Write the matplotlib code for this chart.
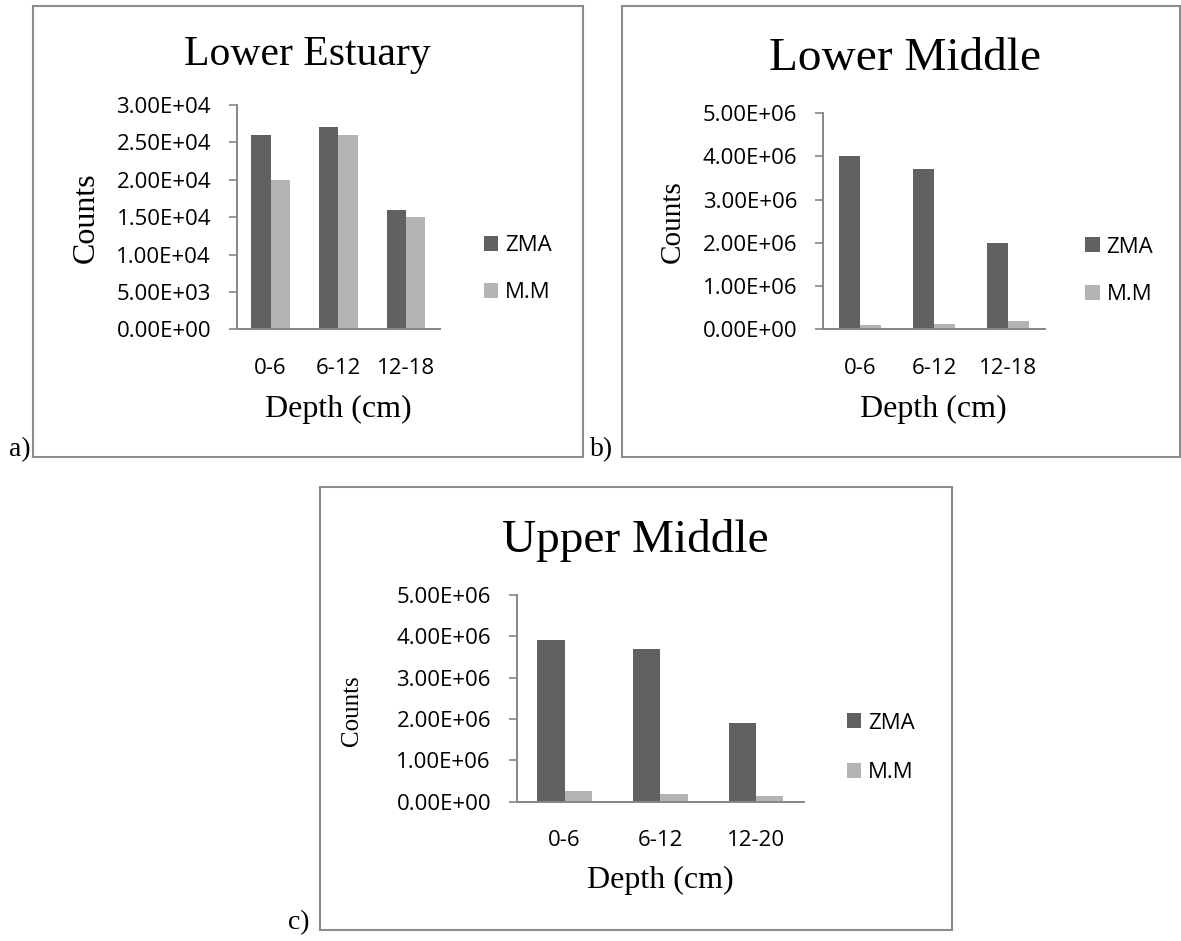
import matplotlib
matplotlib.use("Agg")
import matplotlib.pyplot as plt
from matplotlib.patches import Rectangle
from matplotlib.ticker import MultipleLocator, FuncFormatter
import numpy as np

# ---- data -------------------------------------------------------------
series_names = ["ZMA", "M.M"]

depth_a = ["0-6", "6-12", "12-18"]
zma_a = [2.6e4, 2.7e4, 1.6e4]
mm_a = [2.0e4, 2.6e4, 1.5e4]

depth_b = ["0-6", "6-12", "12-18"]
zma_b = [4.0e6, 3.7e6, 2.0e6]
mm_b = [1.0e5, 1.2e5, 2.0e5]

depth_c = ["0-6", "6-12", "12-20"]
zma_c = [3.9e6, 3.7e6, 1.9e6]
mm_c = [2.7e5, 1.8e5, 1.4e5]

titles = ["Lower Estuary", "Lower Middle", "Upper Middle"]
tags = ["a)", "b)", "c)"]
y_max = [3.0e4, 5.0e6, 5.0e6]
y_step = [5.0e3, 1.0e6, 1.0e6]

# ---- style ------------------------------------------------------------
plt.rcParams["font.family"] = ["Open Sans", "DejaVu Sans"]
SERIF = ["Liberation Serif", "DejaVu Serif"]
ZMA_COLOR = "#616161"
MM_COLOR = "#b3b3b3"
AXIS_COLOR = "#868686"
FRAME_COLOR = "#8c8c8c"
TICK_FS = 16

W, H = 1181, 941
fig = plt.figure(figsize=(W / 100, H / 100), dpi=100)


def fx(x):
    return x / W


def fy(y):
    return 1 - y / H


# layout of each panel, in pixels from the top-left corner
layout = [
    dict(axes=(236.7, 105, 440, 329.3), title=(307, 65, 30), ylab=(86, 218, 23),
         xlab=(338.7, 409, 23), xpad=20.5, leg=(484, 269), leg_sp=1.18,
         frame=(32.5, 6, 583, 457), tag=(19.5, 450)),
    dict(axes=(823.3, 113.3, 1045, 329.3), title=(905, 70, 34), ylab=(673, 221.7, 21),
         xlab=(933.5, 409, 23), xpad=20.5, leg=(1085.4, 271), leg_sp=1.2,
         frame=(622, 6, 1180, 457), tag=(601.5, 450)),
    dict(axes=(516.7, 595, 804, 801.7), title=(635.5, 551.7, 34), ylab=(351.7, 711, 18),
         xlab=(660.5, 880, 23), xpad=20.5, leg=(847, 748), leg_sp=1.3,
         frame=(320, 487, 952, 930), tag=(299, 923)),
]

panels = [
    (depth_a, zma_a, mm_a),
    (depth_b, zma_b, mm_b),
    (depth_c, zma_c, mm_c),
]

sci = FuncFormatter(lambda v, _: "{:.2E}".format(v))
bar_w = 0.285

for i, (cats, zma, mm) in enumerate(panels):
    L = layout[i]
    l, t, r, b = L["axes"]
    ax = fig.add_axes([fx(l), fy(b), fx(r - l), (b - t) / H])

    x = np.arange(len(cats))
    h1 = ax.bar(x - bar_w / 2, zma, width=bar_w, color=ZMA_COLOR, label=series_names[0])
    h2 = ax.bar(x + bar_w / 2, mm, width=bar_w, color=MM_COLOR, label=series_names[1])

    ax.set_xlim(-0.5, len(cats) - 0.5)
    ax.set_ylim(0, y_max[i])
    ax.yaxis.set_major_locator(MultipleLocator(y_step[i]))
    ax.yaxis.set_major_formatter(sci)
    ax.set_xticks(x)
    ax.set_xticklabels(cats)

    for side in ("top", "right"):
        ax.spines[side].set_visible(False)
    for side in ("left", "bottom"):
        ax.spines[side].set_color(AXIS_COLOR)
        ax.spines[side].set_linewidth(1.4)
    ax.tick_params(axis="y", direction="out", length=5.5, width=1.2, color=AXIS_COLOR,
                   labelsize=TICK_FS, pad=13)
    ax.tick_params(axis="x", length=0, labelsize=TICK_FS, pad=L["xpad"])

    # title, axis labels
    tx, ty, tfs = L["title"]
    ax.text(fx(tx), fy(ty), titles[i], transform=fig.transFigure, ha="center",
            va="baseline", fontsize=tfs, family=SERIF)
    yx, yy, yfs = L["ylab"]
    ax.set_ylabel("Counts", family=SERIF, fontsize=yfs, va="center", ha="center")
    ax.yaxis.set_label_coords(fx(yx), fy(yy), transform=fig.transFigure)
    xx, xy, xfs = L["xlab"]
    ax.set_xlabel("Depth (cm)", family=SERIF, fontsize=xfs, va="center", ha="center")
    ax.xaxis.set_label_coords(fx(xx), fy(xy), transform=fig.transFigure)

    # legend to the right of the plot
    lx, ly = L["leg"]
    ax.legend(handles=[h1, h2], loc="center left", bbox_to_anchor=(fx(lx), fy(ly)),
              bbox_transform=fig.transFigure, frameon=False, fontsize=TICK_FS,
              handlelength=0.65, handleheight=0.65, handletextpad=0.3,
              labelspacing=L["leg_sp"], borderpad=0, borderaxespad=0)

    # panel frame and tag
    bl, bt, br, bb = L["frame"]
    fig.add_artist(Rectangle((fx(bl), fy(bb)), fx(br - bl), (bb - bt) / H,
                             transform=fig.transFigure, fill=False,
                             edgecolor=FRAME_COLOR, linewidth=1.5))
    gx, gy = L["tag"]
    fig.text(fx(gx), fy(gy), tags[i], ha="center", va="center", fontsize=20, family=SERIF)

fig.savefig("out.png", dpi=100, facecolor="white")
